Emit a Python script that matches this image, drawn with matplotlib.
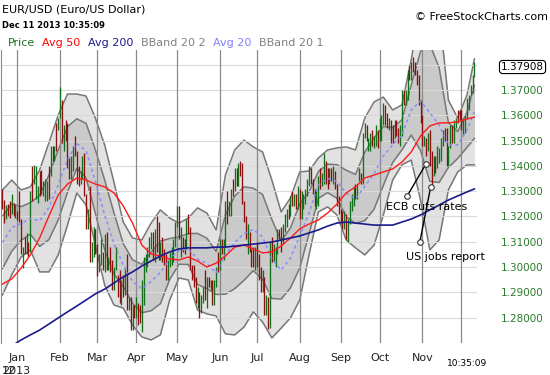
import matplotlib
matplotlib.use("Agg")
import matplotlib.pyplot as plt
from matplotlib import transforms
import numpy as np
import pandas as pd

# daily bars (weekdays), Dec 20 2012 .. Dec 11 2013
dates = pd.bdate_range("2012-12-20", "2013-12-11")

highs = (
    # Dec 2012
    [1.3308, 1.3265, 1.3245, 1.3250, 1.3260, 1.3290, 1.3255, 1.3245]
    # Jan
    + [1.3220, 1.3299, 1.3190, 1.3080, 1.3120, 1.3135, 1.3100, 1.3300, 1.3400, 1.3404, 1.3400, 1.3320,
       1.3380, 1.3385, 1.3340, 1.3350, 1.3340, 1.3400, 1.3480, 1.3480, 1.3480, 1.3570, 1.3590]
    # Feb
    + [1.3711, 1.3660, 1.3560, 1.3580, 1.3570, 1.3430, 1.3440, 1.3480, 1.3520, 1.3460, 1.3400, 1.3380,
       1.3440, 1.3450, 1.3290, 1.3230, 1.3320, 1.3100, 1.3160, 1.3150]
    # Mar
    + [1.3090, 1.3050, 1.3110, 1.3060, 1.3130, 1.3140, 1.3040, 1.3080, 1.3030, 1.3000, 1.3080, 1.2970,
       1.2990, 1.2950, 1.2970, 1.3000, 1.3050, 1.2880, 1.2880, 1.2850, 1.2850]
    # Apr
    + [1.2880, 1.2860, 1.2850, 1.2950, 1.3040, 1.3050, 1.3080, 1.3120, 1.3140, 1.3140, 1.3150, 1.3200,
       1.3180, 1.3100, 1.3120, 1.3070, 1.3050, 1.3030, 1.3060, 1.3080, 1.3110, 1.3180]
    # May
    + [1.3243, 1.3240, 1.3160, 1.3120, 1.3110, 1.3190, 1.3210, 1.3160, 1.3010, 1.3010, 1.2960, 1.2920,
       1.2900, 1.2890, 1.2920, 1.2990, 1.2960, 1.2960, 1.2950, 1.2950, 1.2950, 1.3000, 1.3060]
    # Jun
    + [1.3110, 1.3110, 1.3110, 1.3260, 1.3300, 1.3260, 1.3310, 1.3350, 1.3390, 1.3390, 1.3410, 1.3420,
       1.3410, 1.3260, 1.3200, 1.3170, 1.3140, 1.3070, 1.3080, 1.3080]
    # Jul
    + [1.3100, 1.3050, 1.3000, 1.2990, 1.2960, 1.2890, 1.2880, 1.3100, 1.3120, 1.3090, 1.3080, 1.3150,
       1.3150, 1.3160, 1.3170, 1.3210, 1.3230, 1.3250, 1.3280, 1.3300, 1.3290, 1.3290, 1.3320]
    # Aug
    + [1.3310, 1.3300, 1.3290, 1.3310, 1.3350, 1.3400, 1.3390, 1.3350, 1.3310, 1.3300, 1.3360, 1.3390,
       1.3370, 1.3450, 1.3420, 1.3390, 1.3390, 1.3390, 1.3400, 1.3380, 1.3330, 1.3280]
    # Sep
    + [1.3230, 1.3220, 1.3220, 1.3210, 1.3190, 1.3260, 1.3290, 1.3320, 1.3330, 1.3330, 1.3390, 1.3370,
       1.3530, 1.3570, 1.3560, 1.3510, 1.3530, 1.3540, 1.3520, 1.3560, 1.3540]
    # Oct
    + [1.3590, 1.3600, 1.3650, 1.3640, 1.3610, 1.3590, 1.3580, 1.3560, 1.3580, 1.3580, 1.3550, 1.3560,
       1.3700, 1.3700, 1.3700, 1.3780, 1.3800, 1.3810, 1.3830, 1.3810, 1.3780, 1.3760, 1.3660]
    # Nov
    + [1.3600, 1.3520, 1.3510, 1.3530, 1.3540, 1.3460, 1.3440, 1.3440, 1.3480, 1.3470, 1.3510, 1.3540,
       1.3550, 1.3550, 1.3480, 1.3560, 1.3560, 1.3580, 1.3590, 1.3620, 1.3620]
    # Dec
    + [1.3620, 1.3590, 1.3600, 1.3670, 1.3680, 1.3720, 1.3760, 1.3810]
)

lows = (
    [1.3230, 1.3175, 1.3190, 1.3200, 1.3195, 1.3210, 1.3200, 1.3195]
    + [1.3185, 1.3180, 1.3050, 1.2998, 1.3050, 1.3050, 1.3040, 1.3060, 1.3260, 1.3330, 1.3270, 1.3255,
       1.3280, 1.3290, 1.3280, 1.3260, 1.3260, 1.3270, 1.3360, 1.3420, 1.3420, 1.3460, 1.3540]
    + [1.3590, 1.3490, 1.3460, 1.3500, 1.3390, 1.3350, 1.3350, 1.3380, 1.3440, 1.3330, 1.3320, 1.3330,
       1.3350, 1.3280, 1.3150, 1.3150, 1.3020, 1.3020, 1.3040, 1.3050]
    + [1.2965, 1.2980, 1.3010, 1.2990, 1.2980, 1.2990, 1.2990, 1.2980, 1.2910, 1.2910, 1.2990, 1.2880,
       1.2860, 1.2850, 1.2880, 1.2890, 1.2830, 1.2830, 1.2750, 1.2750, 1.2800]
    + [1.2800, 1.2770, 1.2780, 1.2745, 1.2850, 1.2980, 1.3000, 1.3040, 1.3070, 1.3030, 1.3020, 1.3060,
       1.3030, 1.3030, 1.3020, 1.3010, 1.2950, 1.2950, 1.3000, 1.3010, 1.3020, 1.3080]
    + [1.3160, 1.3110, 1.3040, 1.3060, 1.3050, 1.3070, 1.3130, 1.2990, 1.2950, 1.2920, 1.2860, 1.2840,
       1.2800, 1.2820, 1.2860, 1.2870, 1.2840, 1.2920, 1.2910, 1.2850, 1.2850, 1.2920, 1.2980]
    + [1.2990, 1.3050, 1.3030, 1.3080, 1.3170, 1.3200, 1.3200, 1.3280, 1.3300, 1.3320, 1.3320, 1.3360,
       1.3250, 1.3180, 1.3110, 1.3050, 1.3060, 1.3000, 1.3000, 1.2990]
    + [1.3000, 1.2950, 1.2900, 1.2900, 1.2810, 1.2810, 1.2755, 1.2760, 1.3020, 1.3020, 1.3000, 1.3050,
       1.3110, 1.3060, 1.3090, 1.3140, 1.3160, 1.3190, 1.3200, 1.3240, 1.3240, 1.3230, 1.3230]
    + [1.3190, 1.3190, 1.3230, 1.3250, 1.3280, 1.3320, 1.3330, 1.3290, 1.3240, 1.3230, 1.3240, 1.3310,
       1.3320, 1.3330, 1.3330, 1.3310, 1.3330, 1.3340, 1.3330, 1.3310, 1.3240, 1.3210]
    + [1.3180, 1.3150, 1.3150, 1.3110, 1.3100, 1.3170, 1.3220, 1.3240, 1.3270, 1.3270, 1.3340, 1.3330,
       1.3330, 1.3510, 1.3500, 1.3460, 1.3460, 1.3480, 1.3470, 1.3480, 1.3470]
    + [1.3500, 1.3500, 1.3560, 1.3560, 1.3550, 1.3540, 1.3490, 1.3490, 1.3510, 1.3520, 1.3490, 1.3480,
       1.3520, 1.3640, 1.3640, 1.3660, 1.3740, 1.3740, 1.3770, 1.3760, 1.3720, 1.3640, 1.3570]
    + [1.3480, 1.3480, 1.3440, 1.3460, 1.3400, 1.3310, 1.3360, 1.3370, 1.3390, 1.3410, 1.3420, 1.3480,
       1.3500, 1.3400, 1.3400, 1.3470, 1.3490, 1.3490, 1.3550, 1.3570, 1.3580]
    + [1.3540, 1.3520, 1.3530, 1.3590, 1.3620, 1.3680, 1.3690, 1.3750]
)

# u = up day (green), d = down day (red), one string per month
updown = "".join([
    "dduddudu",
    "dddud" "ududu" "uuddu" "uudud" "udu",
    "ududdduuddduudduduud",
    "duududud" "duudd" "udududud",
    "udduuuuuud" "uddudddu" "uuuu",
    "ududdudd" "dddudu" "udududuud",
    "uduuduudud" "uddddudddu",
    "dddud" "ududu" "uuddu" "uudud" "udu",
    "duuuu" "udddu" "uduud" "dudud" "dd",
    "ddudu" "uuudu" "uduud" "uuduu" "d",
    "uuudd" "uddud" "duudu" "ududd" "ddd",
    "dudud" "duduu" "uuddu" "uduud" "d",
    "duuuuuuu",
])

last_price = 1.37908

# indicator lines read at weekly points (every 5th bar from Dec 20) plus the last bar
ind_dates = list(pd.date_range("2012-12-20", "2013-12-05", freq="7D")) + [pd.Timestamp("2013-12-11")]

avg200 = [1.2668, 1.2688, 1.2712, 1.2732, 1.2751, 1.2775, 1.2799, 1.2823, 1.2846, 1.2870, 1.2894,
          1.2913, 1.2937, 1.2961, 1.2981, 1.3004, 1.3024, 1.3044, 1.3060, 1.3072, 1.3076, 1.3076,
          1.3076, 1.3079, 1.3079, 1.3083, 1.3087, 1.3091, 1.3095, 1.3099, 1.3107, 1.3115, 1.3123,
          1.3135, 1.3147, 1.3162, 1.3174, 1.3178, 1.3174, 1.3170, 1.3166, 1.3166, 1.3166, 1.3178,
          1.3190, 1.3206, 1.3226, 1.3245, 1.3265, 1.3281, 1.3297, 1.3309]

avg50 = [1.2933, 1.2953, 1.2996, 1.3048, 1.3115, 1.3202, 1.3285, 1.3328, 1.3352, 1.3344, 1.3328,
         1.3317, 1.3293, 1.3242, 1.3174, 1.3087, 1.3052, 1.3044, 1.3032, 1.3028, 1.3040, 1.3024,
         1.3000, 1.3016, 1.3044, 1.3079, 1.3087, 1.3072, 1.3056, 1.3060, 1.3083, 1.3115, 1.3151,
         1.3170, 1.3186, 1.3214, 1.3249, 1.3293, 1.3317, 1.3352, 1.3364, 1.3376, 1.3388, 1.3415,
         1.3455, 1.3518, 1.3558, 1.3570, 1.3570, 1.3574, 1.3585, 1.3593]

# Bollinger 20,2 upper / lower
bb_upper = [1.3305, 1.3344, 1.3305, 1.3317, 1.3384, 1.3491, 1.3601, 1.3684, 1.3684, 1.3676, 1.3589,
            1.3483, 1.3336, 1.3178, 1.3115, 1.3107, 1.3174, 1.3226, 1.3194, 1.3174, 1.3194, 1.3234,
            1.3214, 1.3147, 1.3364, 1.3463, 1.3502, 1.3475, 1.3455, 1.3344, 1.3218, 1.3273, 1.3376,
            1.3380, 1.3431, 1.3463, 1.3471, 1.3475, 1.3463, 1.3589, 1.3653, 1.3672, 1.3621, 1.3641,
            1.3819, 1.4048, 1.4152, 1.4016, 1.3660, 1.3589, 1.3680, 1.3823]
bb_lower = [1.2890, 1.2969, 1.3040, 1.3068, 1.2981, 1.2981, 1.3048, 1.3166, 1.3293, 1.3245, 1.3087,
            1.2929, 1.2850, 1.2838, 1.2771, 1.2724, 1.2712, 1.2732, 1.2870, 1.2957, 1.2949, 1.2830,
            1.2815, 1.2807, 1.2736, 1.2732, 1.2763, 1.2823, 1.2783, 1.2720, 1.2759, 1.2799, 1.2870,
            1.3048, 1.3218, 1.3238, 1.3206, 1.3107, 1.3076, 1.3048, 1.3087, 1.3206, 1.3344, 1.3404,
            1.3423, 1.3265, 1.3068, 1.3107, 1.3305, 1.3376, 1.3404, 1.3404]

GREEN = "#11711a"
RED = "#8c0f0f"

fig = plt.figure(figsize=(5.5, 3.75), dpi=100)
W, H = 550.0, 375.0
ax = fig.add_axes([0.7 / W, 1 - 343 / H, (477 - 0.7) / W, (343 - 50) / H])

xi = np.arange(len(dates))
ix = dates.get_indexer(ind_dates)

# bands: mid line is Avg 20, inner band is half the outer width
bb_upper = np.array(bb_upper)
bb_lower = np.array(bb_lower)
avg20 = (bb_upper + bb_lower) / 2
half = (bb_upper - bb_lower) / 4
ax.fill_between(ix, bb_lower, bb_upper, color="#e2e2e2", lw=0, zorder=1)
ax.fill_between(ix, avg20 - half, avg20 + half, color="#cacaca", lw=0, zorder=1.1)
for line in (bb_upper, bb_lower, avg20 - half, avg20 + half):
    ax.plot(ix, line, color="#777777", lw=1.1, zorder=1.2)

# grid
for v in np.arange(1.28, 1.385, 0.01):
    ax.axhline(v, color="#dadada", lw=0.8, zorder=1.5)

months = dates[dates >= "2013-01-01"]
month_pos = dates.get_indexer(pd.Series(months).groupby(months.month).first())
for p in month_pos:
    ax.axvline(p, color="#8a8a8a", lw=0.9, zorder=1.6)

# price bars
colors = [GREEN if c == "u" else RED for c in updown]
ax.vlines(xi, lows, highs, colors=colors, lw=0.95, zorder=3)

# averages
ax.plot(ix, avg20, color="#8a8aff", lw=1.1, dashes=(2, 2), zorder=3.5)
ax.plot(ix, avg50, color="#ff1a1a", lw=1.0, zorder=4)
ax.plot(ix, avg200, color="#1a1a8c", lw=1.2, zorder=4)

ax.set_xlim(-0.95, 255.4)
ax.set_ylim(1.27, 1.3858)

for s in ("top", "right", "bottom"):
    ax.spines[s].set_visible(False)
ax.spines["left"].set_color("#8a8a8a")

ax.yaxis.tick_right()
yt = np.arange(1.28, 1.375, 0.01)
ax.set_yticks(yt)
ax.set_yticklabels([f"{v:.5f}" for v in yt])
ax.tick_params(axis="y", length=0, pad=17, labelsize=7.5, labelcolor="#2a7a2a")

ax.set_xticks(month_pos)
ax.set_xticklabels(["Jan", "Feb", "Mar", "Apr", "May", "Jun", "Jul", "Aug", "Sep", "Oct", "Nov", ""])
ax.tick_params(axis="x", length=0, pad=7, labelsize=8, labelcolor="#222222")

# last price box
tr = transforms.blended_transform_factory(ax.transAxes, ax.transData)
ax.text(1 + 24 / 476, last_price, f"{last_price:.5f}", transform=tr, fontsize=7.5, va="center",
        ha="left", color="black",
        bbox=dict(boxstyle="round,pad=0.15,rounding_size=0.3", fc="white", ec="black", lw=0.8))

# annotations
for tip, circ, txt, txt_pos in [
    ((227.8, 1.3406), (217.9, 1.3282), "ECB cuts rates", (206.2, 1.3238)),
    ((230.5, 1.3318), (224.6, 1.3098), "US jobs report", (217.0, 1.3040)),
]:
    ax.plot([circ[0], tip[0]], [circ[1], tip[1]], color="black", lw=1.0, zorder=6)
    ax.plot([circ[0], tip[0]], [circ[1], tip[1]], "o", ms=4, mfc="white", mec="#333333", mew=0.8,
            zorder=7)
    ax.text(txt_pos[0], txt_pos[1], txt, fontsize=8, va="center", ha="left", zorder=7)

# header
fig.text(2 / W, 1 - 9 / H, "EUR/USD (Euro/US Dollar)", fontsize=8, va="center", ha="left")
fig.text(2 / W, 1 - 25 / H, "Dec 11 2013 10:35:09", fontsize=6, fontweight="bold", va="center", ha="left")
fig.text(548 / W, 1 - 17 / H, "\u00a9 FreeStockCharts.com", fontsize=8, va="center", ha="right")

legend = [("Price", "#1e6e1e", 8), ("Avg 50", "#ff0000", 42), ("Avg 200", "#1a1a8c", 88),
          ("BBand 20 2", "#808080", 141), ("Avg 20", "#8080ff", 213), ("BBand 20 1", "#808080", 259)]
for label, c, x in legend:
    fig.text(x / W, 1 - 43 / H, label, color=c, fontsize=8, va="center", ha="left")

fig.text(447 / W, 1 - 364 / H, "10:35:09", fontsize=6.5, va="center", ha="left")
# the source draws the 2012 and 2013 year marks on top of each other
fig.text(2 / W, 1 - 371 / H, "2013", fontsize=8, va="center", ha="left", color="#222222")
fig.text(2 / W, 1 - 371 / H, "12", fontsize=8, va="center", ha="left", color="#222222")

fig.savefig("out.png", dpi=100)
